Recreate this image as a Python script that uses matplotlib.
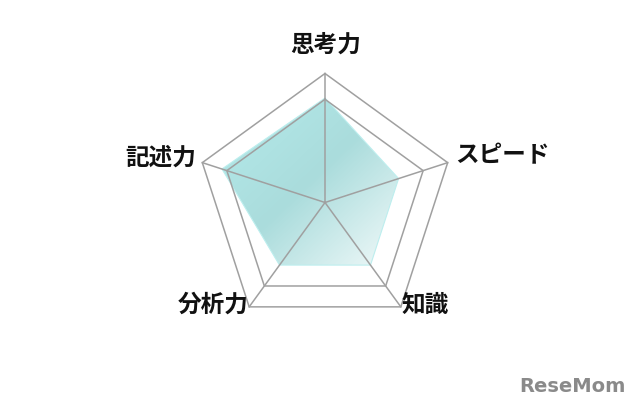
import numpy as np
import matplotlib.pyplot as plt
from matplotlib.patches import Polygon

plt.rcParams['font.family'] = ['Noto Sans CJK JP', 'DejaVu Sans']

# データ
categories = ['思考力', 'スピード', '知識', '分析力', '記述力']
values = [4.05, 3.0, 3.0, 3.0, 4.2]
grid_levels = [4, 5]
max_value = 5

# レイアウト (ピクセル単位)
cx, cy = 325, 205.5
scale = 129 / max_value

angles = np.pi / 2 - np.arange(len(categories)) * 2 * np.pi / len(categories)


def to_xy(r):
    r = np.asarray(r, dtype=float)
    return cx + r * scale * np.cos(angles), cy + r * scale * np.sin(angles)


fig = plt.figure(figsize=(6.4, 4.08), dpi=100)
ax = fig.add_axes([0, 0, 1, 1])
ax.set_xlim(0, 640)
ax.set_ylim(0, 408)
ax.set_aspect('equal')
ax.axis('off')

# グラデーション塗り
dx, dy = to_xy(values)
poly = Polygon(np.column_stack([dx, dy]), closed=True, facecolor='none',
               edgecolor='#bdeeee', linewidth=0.8, zorder=3)
ax.add_patch(poly)
x0, x1, y0, y1 = dx.min(), dx.max(), dy.min(), dy.max()
gx, gy = np.meshgrid(np.linspace(0, 1, 200), np.linspace(0, 1, 200))
t = np.clip((gx + (1 - gy)) / 2, 0, 1)  # 左上 -> 右下
c0 = np.array([180, 235, 235]) / 255
c1 = np.array([170, 220, 220]) / 255
c2 = np.array([242, 250, 250]) / 255
t3 = t[..., None]
img = np.where(t3 < 0.5, c0 + (c1 - c0) * (t3 / 0.5), c1 + (c2 - c1) * ((t3 - 0.5) / 0.5))
im = ax.imshow(img, extent=(x0, x1, y0, y1), origin='lower', zorder=2,
               interpolation='bilinear', aspect='auto')
im.set_clip_path(poly)

# グリッド
for lvl in grid_levels:
    gxs, gys = to_xy([lvl] * len(categories))
    ax.plot(np.append(gxs, gxs[0]), np.append(gys, gys[0]), color='#a0a0a0', lw=1.1, zorder=4)
ox, oy = to_xy([max_value] * len(categories))
for x, y in zip(ox, oy):
    ax.plot([cx, x], [cy, y], color='#a0a0a0', lw=1.1, zorder=4)

# ラベル
label_pos = [(326, 363, 'center'), (455, 253, 'left'), (402, 103, 'left'),
             (249, 103, 'right'), (196, 250, 'right')]
for name, (lx, ly, ha) in zip(categories, label_pos):
    ax.text(lx, ly, name, fontsize=17, fontweight='bold', ha=ha, va='center',
            color='#111111', zorder=5)

ax.text(626, 22, 'ReseMom', fontsize=14, fontweight='bold', color='#8a8a8a',
        ha='right', va='center', family='DejaVu Sans')

plt.savefig('out.png', dpi=100)
